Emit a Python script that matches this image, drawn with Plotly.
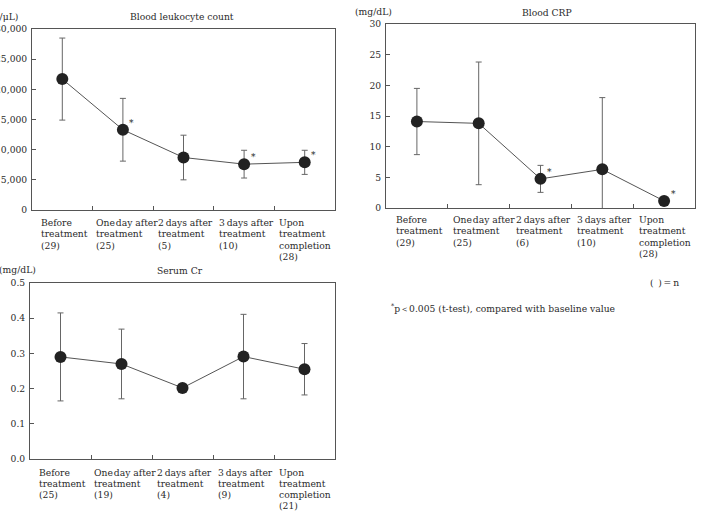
import plotly.graph_objects as go

W, H = 701, 512

# ---------------- data ----------------
category_lines = [
    ["Before", "treatment"],
    ["One\u200aday after", "treatment"],
    ["2\u2009days after", "treatment"],
    ["3\u2009days after", "treatment"],
    ["Upon", "treatment", "completion"],
]

leuko_mean = [21700, 13300, 8700, 7600, 7900]
leuko_sd = [6800, 5200, 3700, 2300, 2000]
leuko_n = [29, 25, 5, 10, 28]
leuko_sig = [False, True, False, True, True]

crp_mean = [14.1, 13.8, 4.75, 6.3, 1.15]
crp_sd = [5.4, 10.0, 2.2, 11.7, 0.0]
crp_n = [29, 25, 6, 10, 28]
crp_sig = [False, False, True, False, True]

cr_mean = [0.290, 0.270, 0.202, 0.291, 0.255]
cr_sd = [0.125, 0.099, 0.0, 0.120, 0.073]
cr_n = [25, 19, 4, 9, 21]
cr_sig = [False, False, False, False, False]

FONT = "DejaVu Serif"
TXT = "#2a2a2a"
FS = 9.2


def px_x(px):
    return px / W


def px_y(py):
    return 1 - py / H


fig = go.Figure()

panels = [
    dict(mean=leuko_mean, sd=leuko_sd, n=leuko_n, sig=leuko_sig, title="Blood leukocyte count",
         unit="(/\u03bcL)", xd=(32, 335), yd=(29, 210), yr=[0, 30000], dt=5000, fmt=",d",
         lab_y=222.5, shifts=[7, 1, 3, 3, 3], unit_xy=(20, 16), title_xy=(182, 16)),
    dict(mean=crp_mean, sd=crp_sd, n=crp_n, sig=crp_sig, title="Blood CRP",
         unit="(mg/dL)", xd=(386, 695), yd=(24, 208), yr=[0, 30], dt=5, fmt="d",
         lab_y=219.5, shifts=[8, 3, 4, 4, 4], unit_xy=(394, 11), title_xy=(547, 12)),
    dict(mean=cr_mean, sd=cr_sd, n=cr_n, sig=cr_sig, title="Serum Cr",
         unit="(mg/dL)", xd=(30, 335), yd=(283, 459), yr=[0, 0.5], dt=0.1, fmt=".1f",
         lab_y=472, shifts=[7, 1, 3, 3, 3], unit_xy=(38, 269), title_xy=(180, 270)),
]

LINE_PITCH = 11.3

for k, p in enumerate(panels):
    idx = "" if k == 0 else str(k + 1)
    xa = "x" + idx
    ya = "y" + idx
    xs = list(range(len(p["mean"])))
    fig.add_trace(go.Scatter(
        x=xs, y=p["mean"], mode="lines+markers",
        xaxis=xa, yaxis=ya,
        line=dict(color="#555555", width=1),
        marker=dict(color="#222222", size=12),
        error_y=dict(type="data", array=p["sd"], visible=True,
                     color="#666666", thickness=1, width=3),
        showlegend=False, cliponaxis=True,
    ))
    axis_common = dict(showline=True, mirror=True, linecolor="#555555", linewidth=1,
                       ticks="inside", ticklen=4, tickcolor="#555555", showgrid=False,
                       zeroline=False, fixedrange=True, automargin=False)
    fig.layout["xaxis" + idx] = dict(
        domain=[px_x(p["xd"][0]), px_x(p["xd"][1])], anchor=ya,
        range=[-0.5, len(xs) - 0.5], tickvals=[i + 0.5 for i in range(len(xs) - 1)],
        showticklabels=False, **axis_common)
    fig.layout["yaxis" + idx] = dict(
        domain=[px_y(p["yd"][1]), px_y(p["yd"][0])], anchor=xa,
        range=p["yr"], dtick=p["dt"], tick0=0, tickformat=p["fmt"],
        tickfont=dict(family=FONT, size=FS, color=TXT), ticklabelstandoff=2,
        **axis_common)

    # category labels (left-aligned, below axis)
    for i, lines in enumerate(category_lines):
        all_lines = lines + ["(%d)" % p["n"][i]]
        for j, t in enumerate(all_lines):
            fig.add_annotation(
                x=i - 0.5, xref=xa, y=px_y(p["lab_y"] + j * LINE_PITCH), yref="paper",
                text=t, showarrow=False, xanchor="left", yanchor="middle",
                xshift=p["shifts"][i], align="left",
                font=dict(family=FONT, size=FS, color=TXT))

    # significance asterisks
    for i, s in enumerate(p["sig"]):
        if s:
            fig.add_annotation(
                x=i, xref=xa, y=p["mean"][i], yref=ya, text="*", showarrow=False,
                xshift=9, yshift=7, font=dict(family=FONT, size=9, color=TXT))

    # title and unit
    fig.add_annotation(x=px_x(p["title_xy"][0]), y=px_y(p["title_xy"][1]), xref="paper", yref="paper",
                       text=p["title"], showarrow=False, xanchor="center", yanchor="middle",
                       font=dict(family=FONT, size=FS, color=TXT))
    fig.add_annotation(x=px_x(p["unit_xy"][0]), y=px_y(p["unit_xy"][1]), xref="paper", yref="paper",
                       text=p["unit"], showarrow=False, xanchor="right", yanchor="middle",
                       font=dict(family=FONT, size=FS, color=TXT))

# notes
fig.add_annotation(x=px_x(681), y=px_y(282), xref="paper", yref="paper",
                   text="(\u2002)\u2009=\u2009n", showarrow=False, xanchor="right", yanchor="middle",
                   font=dict(family=FONT, size=FS, color=TXT))
fig.add_annotation(x=px_x(389), y=px_y(308), xref="paper", yref="paper",
                   text="<sup>*</sup>p\uff1c0.005 (t-test), compared with baseline value",
                   showarrow=False, xanchor="left", yanchor="middle",
                   font=dict(family=FONT, size=FS, color=TXT))

fig.update_layout(width=W, height=H, autosize=False,
                  margin=dict(l=0, r=0, t=0, b=0),
                  paper_bgcolor="white", plot_bgcolor="white",
                  showlegend=False)

fig.write_html("out.html", config={"displayModeBar": False})
